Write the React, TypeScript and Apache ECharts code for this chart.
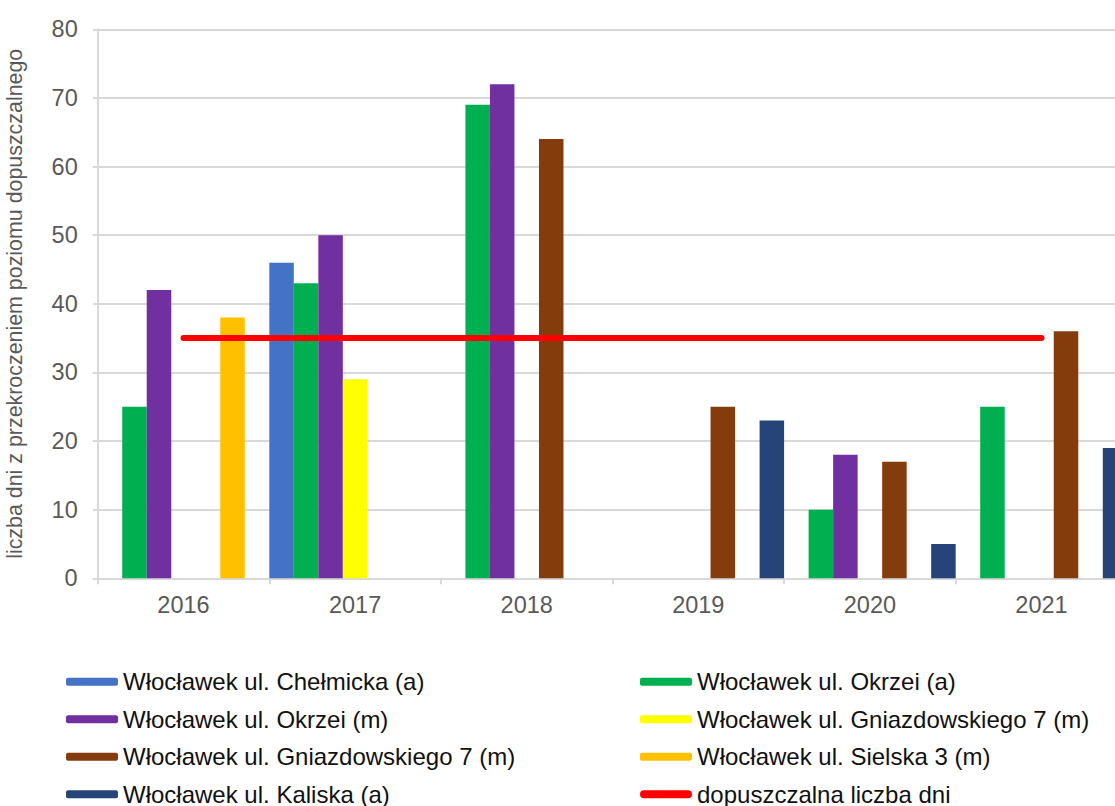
import React, { useEffect, useRef } from "react";
import * as echarts from "echarts";

const years = ["2016", "2017", "2018", "2019", "2020", "2021"];
const chelmickaA = [null, 46, null, null, null, null];
const okrzeiA = [25, 43, 69, null, 10, 25];
const okrzeiM = [42, 50, 72, null, 18, null];
const gniazdYellow = [null, 29, null, null, null, null];
const gniazdBrown = [null, null, 64, 25, 17, 36];
const sielska = [38, null, null, null, null, null];
const kaliska = [null, null, null, 23, 5, 19];
const limitDays = [35, 35, 35, 35, 35, 35];

const N_CHEL = "Włocławek ul. Chełmicka (a)";
const N_OKA = "Włocławek ul. Okrzei (a)";
const N_OKM = "Włocławek ul. Okrzei (m)";
const N_GY = "Włocławek ul. Gniazdowskiego 7 (m)";
const N_GB = "Włocławek ul. Gniazdowskiego 7 (m) ";
const N_SIE = "Włocławek ul. Sielska 3 (m)";
const N_KAL = "Włocławek ul. Kaliska (a)";
const N_LIM = "dopuszczalna liczba dni";

const leftColumn = [N_CHEL, N_OKM, N_GB, N_KAL];
const rightColumn = [N_OKA, N_GY, N_SIE, N_LIM];

const FONT = "'Liberation Sans', Arial, sans-serif";

export default function App() {
  const ref = useRef<HTMLDivElement>(null);
  useEffect(() => {
    if (!ref.current) return;
    const chart = echarts.init(ref.current, undefined, { renderer: "svg" });
    const bar = (name: string, data: (number | null)[], color: string) => ({
      type: "bar",
      name,
      data,
      barGap: "0%",
      barCategoryGap: "0%",
      itemStyle: { color },
    });
    const rowCenters = [681.7, 719.2, 756.7, 794.2];
    const legendItem = (name: string, left: number, row: number) => ({
      orient: "horizontal",
      left,
      top: rowCenters[row] - 12,
      padding: 0,
      itemWidth: 52,
      itemHeight: 8,
      textStyle: { fontFamily: FONT, fontSize: 24, color: "#111", lineHeight: 24 },
      selectedMode: false,
      data: [
        name === N_LIM
          ? {
              name,
              icon: "path://M4,0 L48,0 A4,4 0 0 1 48,8 L4,8 A4,4 0 0 1 4,0 Z",
              itemStyle: { color: "#FF0000" },
            }
          : name,
      ],
    });
    const legends = [
      ...leftColumn.map((n, i) => legendItem(n, 66, i)),
      ...rightColumn.map((n, i) => legendItem(n, 640, i)),
    ];
    chart.setOption({
      animation: false,
      textStyle: { fontFamily: FONT },
      grid: {
        left: 97.7,
        top: 29.3,
        bottom: 227.7,
        right: -12.3,
        containLabel: false,
        outerBoundsMode: "none",
      },
      legend: legends,
      xAxis: {
        type: "category",
        data: years,
        axisLine: { show: true, lineStyle: { color: "#d9d9d9", width: 2 } },
        axisTick: { show: true, length: 6, lineStyle: { color: "#d9d9d9", width: 2 } },
        axisLabel: { color: "#595959", fontSize: 23.5, margin: 15, fontFamily: FONT },
      },
      yAxis: {
        type: "value",
        min: 0,
        max: 80,
        interval: 10,
        name: "liczba dni z przekroczeniem poziomu dopuszczalnego",
        nameLocation: "middle",
        nameGap: 72,
        nameTextStyle: { color: "#595959", fontSize: 21.4, fontFamily: FONT },
        axisLine: { show: true, lineStyle: { color: "#d9d9d9", width: 2 } },
        axisTick: { show: true, length: 5, lineStyle: { color: "#d9d9d9", width: 2 } },
        axisLabel: { color: "#595959", fontSize: 23.5, margin: 20, fontFamily: FONT },
        splitLine: { show: true, lineStyle: { color: "#d9d9d9", width: 2 } },
      },
      series: [
        bar(N_CHEL, chelmickaA, "#4472C4"),
        bar(N_OKA, okrzeiA, "#00B050"),
        bar(N_OKM, okrzeiM, "#7030A0"),
        bar(N_GY, gniazdYellow, "#FFFF00"),
        bar(N_GB, gniazdBrown, "#843C0C"),
        bar(N_SIE, sielska, "#FFC000"),
        bar(N_KAL, kaliska, "#264478"),
        {
          type: "line",
          name: N_LIM,
          data: limitDays,
          symbol: "none",
          z: 5,
          itemStyle: { color: "#FF0000" },
          lineStyle: { color: "#FF0000", width: 6, cap: "round" },
        },
      ],
    });
    return () => chart.dispose();
  }, []);
  return (
    <div
      ref={ref}
      style={{ position: "absolute", left: 0, top: 0, width: 1115, height: 806 }}
    />
  );
}
